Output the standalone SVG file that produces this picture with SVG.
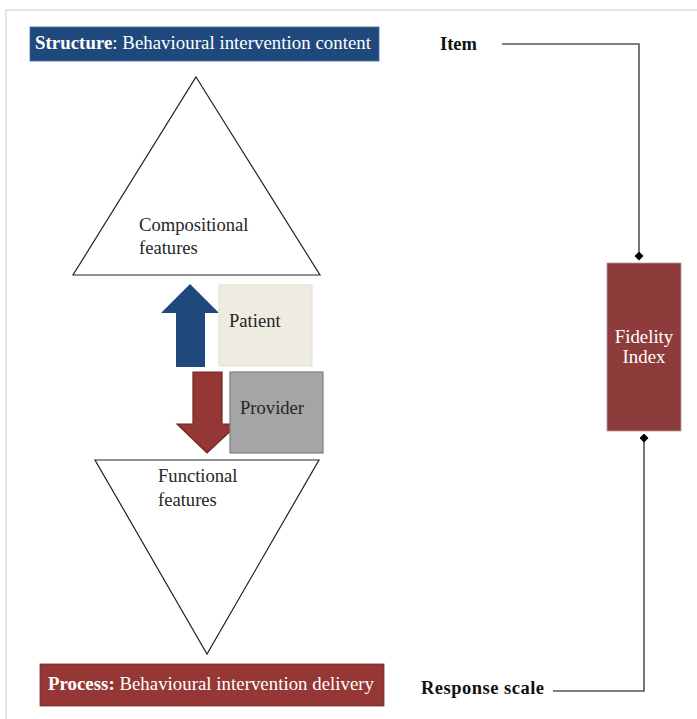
<svg xmlns="http://www.w3.org/2000/svg" width="697" height="719" viewBox="0 0 697 719">
  <style>
    text { font-family: "Liberation Serif", "DejaVu Serif", serif; }
    .lbl { font-size: 18.6px; fill: #262626; }
    .head { font-size: 18.8px; fill: #ffffff; }
    .bold { font-weight: bold; }
    .side { font-size: 18.5px; font-weight: bold; fill: #111111; }
    .tri { fill: #ffffff; stroke: #222222; stroke-width: 1.2; }
    .conn { fill: none; stroke: #555555; stroke-width: 1.6; }
  </style>
  <defs>
    <marker id="diamond" viewBox="0 0 10 10" refX="5" refY="5" markerWidth="9" markerHeight="9" markerUnits="userSpaceOnUse" orient="auto">
      <path d="M5 0 L10 5 L5 10 L0 5 Z" fill="#000000"/>
    </marker>
  </defs>

  <rect width="697" height="719" fill="#ffffff"/>
  <!-- page frame -->
  <path d="M6 719 V10 H697" fill="none" stroke="#e6e6e6" stroke-width="2"/>

  <g id="structure">
    <rect x="30" y="27" width="349" height="34" fill="#1f497d" stroke="#4a6d99" stroke-width="0.8"/>
    <text x="35" y="49" class="head" textLength="336"><tspan class="bold">Structure</tspan>: Behavioural intervention content</text>
  </g>

  <g id="compositional">
    <polygon class="tri" points="196,77 320,275 73,275"/>
    <text x="139" y="231" class="lbl">Compositional</text>
    <text x="139" y="254" class="lbl">features</text>
  </g>

  <g id="functional">
    <polygon class="tri" points="95,460 319,460 207,654"/>
    <text x="158" y="482" class="lbl">Functional</text>
    <text x="158" y="506" class="lbl">features</text>
  </g>

  <g id="arrow-up">
    <polygon points="190,284 219,313 205,313 205,367 176,367 176,313 161,313" fill="#1f497d"/>
  </g>

  <g id="patient">
    <rect x="219" y="285" width="93" height="81" fill="#eeece1" stroke="#e3dfcc" stroke-width="1"/>
    <text x="229" y="327" class="lbl">Patient</text>
  </g>

  <g id="arrow-down">
    <polygon points="193,372 222,372 222,424 238,424 207,453 177,424 193,424" fill="#953735" stroke="#6e2624" stroke-width="1.2"/>
  </g>

  <g id="provider">
    <rect x="230" y="372" width="93" height="81" fill="#a5a5a5" stroke="#7f7f7f" stroke-width="1.2"/>
    <text x="240" y="414" class="lbl">Provider</text>
  </g>

  <g id="process">
    <rect x="40" y="664" width="344" height="42" fill="#953735" stroke="#7a2c2a" stroke-width="0.8"/>
    <text x="48" y="690" class="head" textLength="326"><tspan class="bold">Process:</tspan> Behavioural intervention delivery</text>
  </g>

  <g id="fidelity-index">
    <rect x="607" y="263" width="74" height="168" fill="#8e3b3b" stroke="#b89a9a" stroke-width="0.8"/>
    <text x="644" y="343" class="head" text-anchor="middle">Fidelity</text>
    <text x="644" y="363" class="head" text-anchor="middle">Index</text>
  </g>

  <g id="item">
    <text x="440" y="50" class="side">Item</text>
  </g>

  <g id="response-scale">
    <text x="421" y="694" class="side" textLength="123">Response scale</text>
  </g>

  <g id="connectors">
    <path class="conn" d="M502 44 H639 V256" marker-end="url(#diamond)"/>
    <path class="conn" d="M553 691 H644 V438" marker-end="url(#diamond)"/>
  </g>
</svg>
